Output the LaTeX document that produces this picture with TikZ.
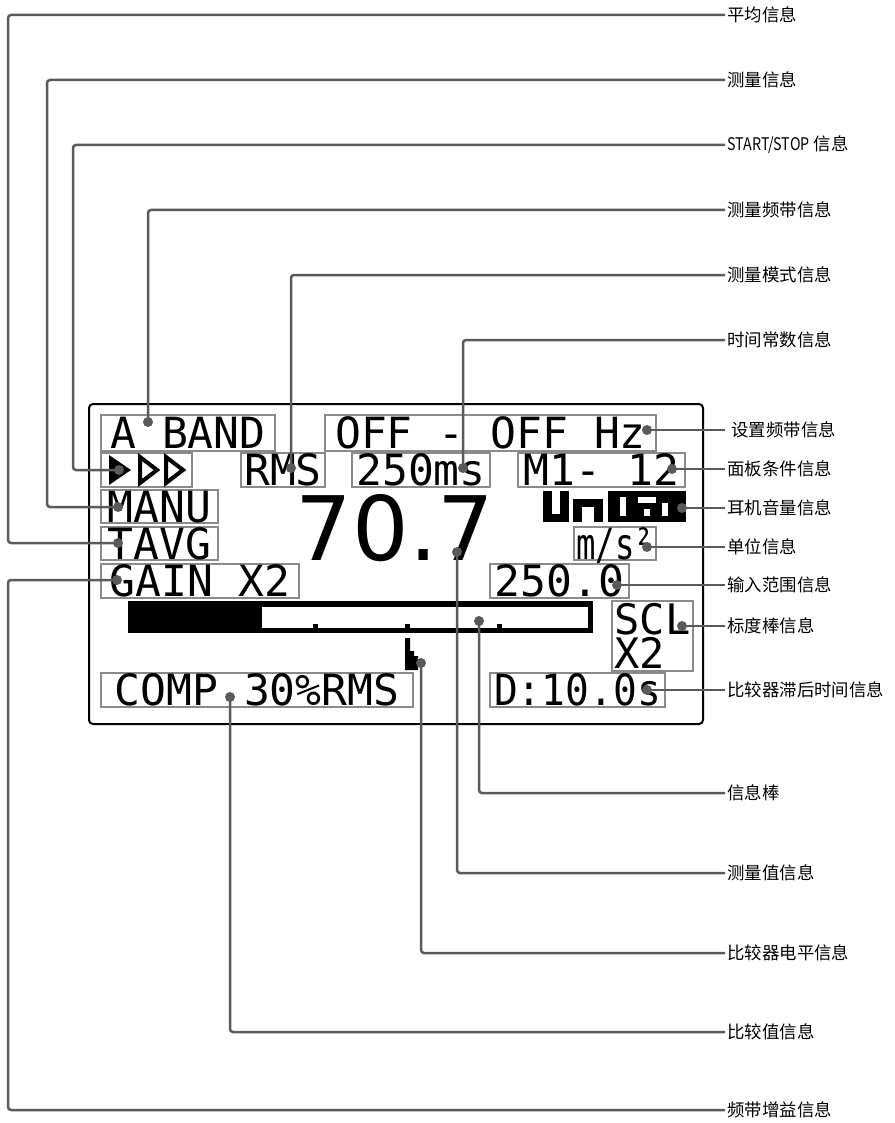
\documentclass[tikz,border=0pt]{standalone}
\usepackage{fontspec}
\newfontfamily\cjk{Noto Sans CJK SC}
\newfontfamily\lcdfont{DejaVu Sans Mono}
\newfontfamily\bigfont{DejaVu Sans}
\definecolor{leadgray}{HTML}{5A5A5A}
\definecolor{boxgray}{HTML}{8A8A8A}

\begin{document}
\begin{tikzpicture}[
		x=0.5pt, y=-0.5pt,
		% lineas de referencia y puntos
		leader/.style={draw=leadgray, line width=1.25pt, rounded corners=1.5pt},
		tipdot/.style={circle, fill=leadgray, inner sep=0pt, minimum size=5pt},
		lcdbox/.style={draw=boxgray, line width=0.6pt, inner sep=0pt, text height=15.6pt, text depth=0pt, font=\lcdfont\fontsize{21.5pt}{17pt}\selectfont},
		info/.style={anchor=west, inner sep=1pt, font=\cjk\fontsize{8.7pt}{10pt}\selectfont}
		]
		\useasboundingbox (0,0) rectangle (894,1123);
		
		% pantalla
		\draw[line width=1pt, rounded corners=2pt] (89,404) rectangle (703,724);
		
		\node[lcdbox, minimum width=87pt, minimum height=18pt] (band) at (188,433) {A BAND};
		\node[lcdbox, minimum width=165.5pt, minimum height=18pt] (setband) at (490.5,433) {OFF - OFF Hz};
		\node[lcdbox, minimum width=45.5pt, minimum height=17pt] (start) at (146.5,470) {};
		\node[lcdbox, minimum width=42pt, minimum height=17pt] (mode) at (283,470) {RMS};
		\node[lcdbox, minimum width=69pt, minimum height=17pt] (tconst) at (421,470) {250ms};
		\node[lcdbox, minimum width=83.5pt, minimum height=17pt] (panel) at (601.5,470) {M1- 12};
		\node[lcdbox, minimum width=58.5pt, minimum height=16.5pt] (manu) at (159.5,506.5) {MANU};
		\node[lcdbox, minimum width=58.5pt, minimum height=16.5pt] (tavg) at (159.5,543.5) {TAVG};
		\node[lcdbox, minimum width=41pt, minimum height=16.5pt] (unit) at (615,543.5) {\scalebox{0.75}[1]{m/s²}};
		\node[lcdbox, minimum width=99pt, minimum height=17pt] (gain) at (200,581) {GAIN X2};
		\node[lcdbox, minimum width=69.5pt, minimum height=17pt] (range) at (559.5,581) {250.0};
		\node[lcdbox, minimum width=40.5pt, minimum height=35pt, align=left, text height={}, text depth={}, font=\lcdfont\fontsize{21pt}{17pt}\selectfont] (scl) at (652.5,636) {SCL\\X2};
		\node[lcdbox, minimum width=156pt, minimum height=17pt] (comp) at (257,690) {COMP 30\%RMS};
		\node[lcdbox, minimum width=87.5pt, minimum height=17pt] (delay) at (577.5,690) {\scalebox{0.92}[1]{D:10.0s}};
		
		\node[inner sep=0pt, text depth=0pt, font=\bigfont\fontsize{44.5pt}{44.5pt}\selectfont] (value) at (395,527.5) {70.7};
		
		% triangulos START/STOP
		\fill (109,455) -- (131,470) -- (109,485) -- cycle;
		\draw[line width=2pt] (140,457) -- (157,470) -- (140,483) -- cycle;
		\draw[line width=2pt] (166,457) -- (183,470) -- (166,483) -- cycle;
		
		% volumen de auriculares
		\fill (543,491) rectangle (552,522);
		\fill (560,491) rectangle (569,522);
		\fill (543,514) rectangle (569,522);
		\fill (573,499) rectangle (582,522);
		\fill (573,499) rectangle (603,507);
		\fill (594,499) rectangle (603,522);
		\fill (608,491) rectangle (686,522);
		\fill[white] (620,497) rectangle (626,516);
		\fill[white] (638,497) rectangle (656,503);
		\fill[white] (644,509) rectangle (650,516);
		\fill[white] (662,503) rectangle (668,516);
		
		% barra
		\fill (128,601) rectangle (593,633);
		\fill[white] (262,607) rectangle (588,628);
		\fill (313,624) rectangle (318,628);
		\fill (405,624) rectangle (410,628);
		\fill (497,624) rectangle (502,628);
		\fill (405,638) -- (410,638) -- (410,651) -- (414,651) -- (414,656) -- (418,656) -- (418,670) -- (405,670) -- cycle;
		
		% puntos
		\node[tipdot] (davg) at (118,543) {};
		\node[tipdot] (dmeas) at (118,507) {};
		\node[tipdot] (dstart) at (119,470) {};
		\node[tipdot] (dband) at (148,422) {};
		\node[tipdot] (dmode) at (291,468) {};
		\node[tipdot] (dtconst) at (463,468) {};
		\node[tipdot] (dsetband) at (647,430) {};
		\node[tipdot] (dpanel) at (672,469) {};
		\node[tipdot] (dvol) at (682,508) {};
		\node[tipdot] (dunit) at (647,547) {};
		\node[tipdot] (drange) at (617,585) {};
		\node[tipdot] (dscl) at (682,626) {};
		\node[tipdot] (ddelay) at (647,690) {};
		\node[tipdot] (dbar) at (479,621) {};
		\node[tipdot] (dvalue) at (457,552) {};
		\node[tipdot] (dlevel) at (421,663) {};
		\node[tipdot] (dcomp) at (230,697) {};
		\node[tipdot] (dgain) at (117,580) {};
		
		% etiquetas
		\node[info] (lavg) at (725,15) {平均信息};
		\node[info] (lmeas) at (725,80) {测量信息};
		\node[info] (lstart) at (725,145) {\scalebox{0.82}[1]{START/STOP} 信息};
		\node[info] (lband) at (725,210) {测量频带信息};
		\node[info] (lmode) at (725,275) {测量模式信息};
		\node[info] (ltconst) at (725,340) {时间常数信息};
		\node[info, inner xsep=3pt] (lsetband) at (725,430) {设置频带信息};
		\node[info] (lpanel) at (725,469) {面板条件信息};
		\node[info] (lvol) at (725,508) {耳机音量信息};
		\node[info] (lunit) at (725,547) {单位信息};
		\node[info] (lrange) at (725,585) {输入范围信息};
		\node[info] (lscl) at (725,626) {标度棒信息};
		\node[info] (ldelay) at (725,690) {比较器滞后时间信息};
		\node[info] (lbar) at (725,793) {信息棒};
		\node[info] (lvalue) at (725,873) {测量值信息};
		\node[info] (llevel) at (725,953) {比较器电平信息};
		\node[info] (lcomp) at (725,1032) {比较值信息};
		\node[info] (lgain) at (725,1110) {频带增益信息};
		
		\coordinate (kavg) at (8,15);
		\coordinate (kmeas) at (47,80);
		\coordinate (kstart) at (73,145);
		\coordinate (kgain) at (8,1110);
		
		% lineas
		\draw[leader] (davg.center) -| (kavg) -- (lavg.west);
		\draw[leader] (dmeas.center) -| (kmeas) -- (lmeas.west);
		\draw[leader] (dstart.center) -| (kstart) -- (lstart.west);
		\draw[leader] (dband.center) |- (lband.west);
		\draw[leader] (dmode.center) |- (lmode.west);
		\draw[leader] (dtconst.center) |- (ltconst.west);
		\draw[leader] (dsetband.center) -- (lsetband.west);
		\draw[leader] (dpanel.center) -- (lpanel.west);
		\draw[leader] (dvol.center) -- (lvol.west);
		\draw[leader] (dunit.center) -- (lunit.west);
		\draw[leader] (drange.center) -- (lrange.west);
		\draw[leader] (dscl.center) -- (lscl.west);
		\draw[leader] (ddelay.center) -- (ldelay.west);
		\draw[leader] (dbar.center) |- (lbar.west);
		\draw[leader] (dvalue.center) |- (lvalue.west);
		\draw[leader] (dlevel.center) |- (llevel.west);
		\draw[leader] (dcomp.center) |- (lcomp.west);
		\draw[leader] (dgain.center) -| (kgain) -- (lgain.west);
		
	\end{tikzpicture}
\end{document}
